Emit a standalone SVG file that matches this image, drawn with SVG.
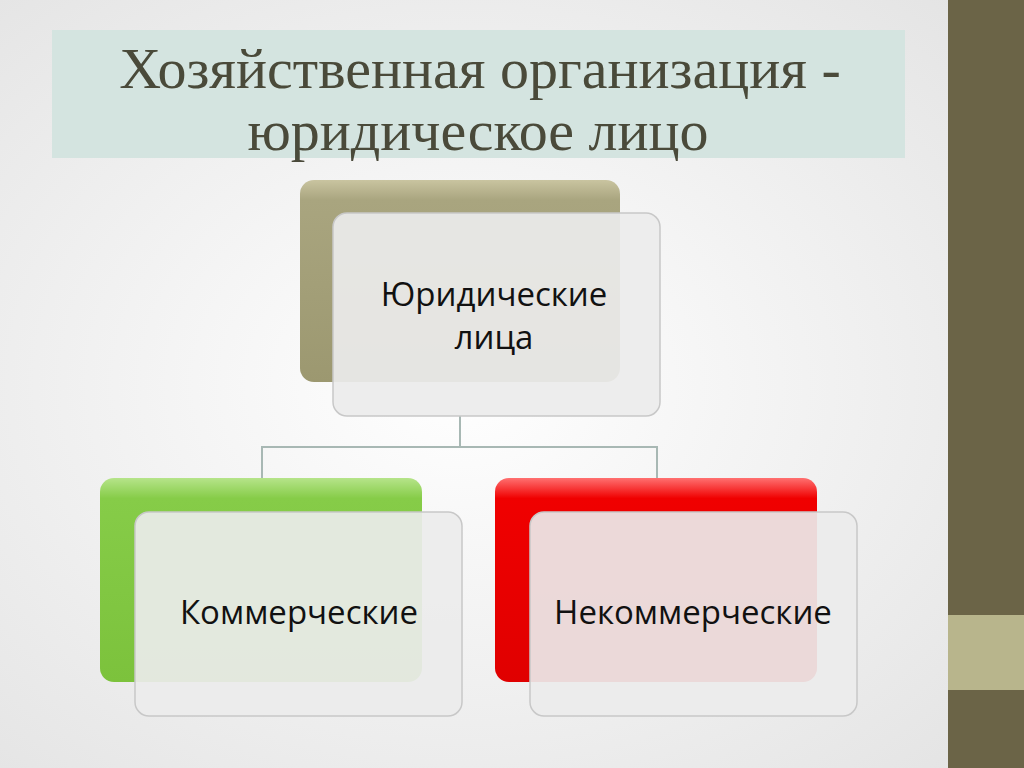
<svg xmlns="http://www.w3.org/2000/svg" width="1024" height="768" viewBox="0 0 1024 768">
<defs>
<radialGradient id="bg" cx="0.45" cy="0.5" r="0.7"><stop offset="0" stop-color="#ffffff"/><stop offset="1" stop-color="#e4e4e4"/></radialGradient>
<linearGradient id="ol" x1="0" y1="0" x2="0" y2="1"><stop offset="0" stop-color="#c9c4a0"/><stop offset="0.1" stop-color="#a9a57f"/><stop offset="1" stop-color="#9c9870"/></linearGradient>
<linearGradient id="gr" x1="0" y1="0" x2="0" y2="1"><stop offset="0" stop-color="#b6e48a"/><stop offset="0.1" stop-color="#86cc48"/><stop offset="1" stop-color="#7cc23c"/></linearGradient>
<linearGradient id="rd" x1="0" y1="0" x2="0" y2="1"><stop offset="0" stop-color="#ff7070"/><stop offset="0.1" stop-color="#f00000"/><stop offset="1" stop-color="#e00000"/></linearGradient>
</defs>
<style>
.front{fill:#ececec;fill-opacity:0.92;stroke:#c8c8c8;stroke-width:1.5}
.t{font-family:"Open Sans","DejaVu Sans",sans-serif;font-size:33px;fill:#111;text-anchor:middle}
.title{font-family:"Liberation Serif",serif;font-size:58px;fill:#4a4a3a;text-anchor:middle}
</style>
<rect width="1024" height="768" fill="url(#bg)"/>
<rect x="948" y="0" width="76" height="768" fill="#6b6447"/>
<rect x="948" y="615" width="76" height="75" fill="#b8b58c"/>
<rect x="52" y="30" width="853" height="128" fill="#d4e4e0"/>
<text class="title" x="480" y="88">Хозяйственная организация -</text>
<text class="title" x="478" y="150">юридическое лицо</text>
<g id="connectors" fill="none" stroke="#a8b8b4" stroke-width="2">
<path d="M460 416V447M262 480V447H657V480"/>
</g>
<g id="n1">
<rect x="300" y="180" width="320" height="202" rx="14" fill="url(#ol)"/>
<rect class="front" x="333" y="213" width="327" height="203" rx="14"/>
<text class="t" x="494" y="306">Юридические</text>
<text class="t" x="494" y="349">лица</text>
</g>
<g id="n2">
<rect x="100" y="478" width="322" height="204" rx="14" fill="url(#gr)"/>
<rect class="front" x="135" y="512" width="327" height="204" rx="14"/>
<text class="t" x="299" y="624">Коммерческие</text>
</g>
<g id="n3">
<rect x="495" y="478" width="322" height="204" rx="14" fill="url(#rd)"/>
<rect class="front" x="530" y="512" width="327" height="204" rx="14"/>
<text class="t" x="693" y="624">Некоммерческие</text>
</g>
</svg>
